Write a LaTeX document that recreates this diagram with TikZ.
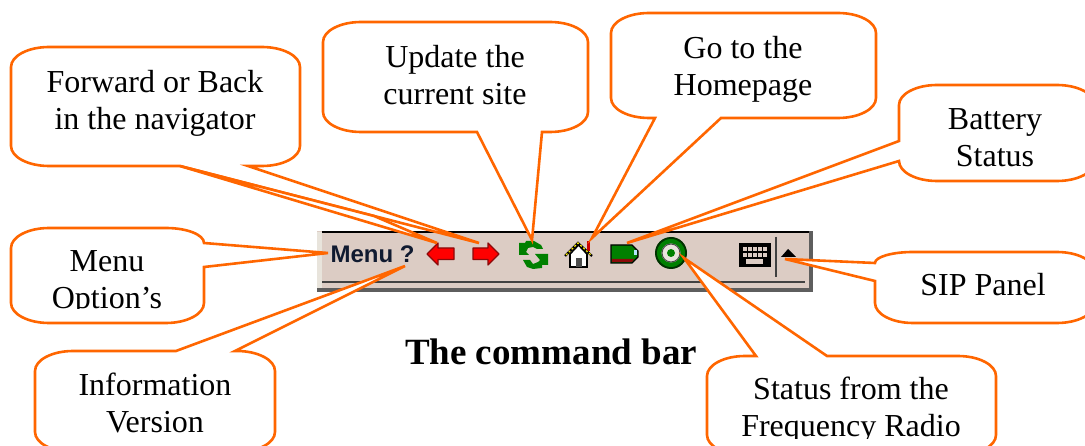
\documentclass[tikz,border=0pt]{standalone}
\usepackage{fontspec}
\setmainfont{Liberation Serif}
\newfontfamily\barfont{Liberation Sans}
\definecolor{calloutline}{HTML}{FF6600}
\definecolor{barface}{HTML}{DCCCC4}
\definecolor{barlight}{HTML}{E8E4DC}
\definecolor{barshadow}{HTML}{5E5E5E}
\definecolor{darkred}{HTML}{8B0A0A}
\definecolor{darkgreen}{HTML}{008000}
\definecolor{menublue}{HTML}{101A30}
\newcommand{\cornerTL}{arc[start angle=180,end angle=90,x radius=38pt,y radius=20pt]}
\newcommand{\cornerTR}{arc[start angle=90,end angle=0,x radius=38pt,y radius=20pt]}
\newcommand{\cornerBR}{arc[start angle=0,end angle=-90,x radius=38pt,y radius=20pt]}
\newcommand{\cornerBL}{arc[start angle=-90,end angle=-180,x radius=38pt,y radius=20pt]}
\tikzset{
	callout/.style={draw=calloutline,fill=white,line width=2.6pt,line join=miter},
	calloutlabel/.style={align=center,font=\fontsize{32}{37}\selectfont,inner sep=0pt},
	redarrow/.style={fill=red,draw=darkred,line width=1.2pt,line join=round}
}
\begin{document}
\begin{tikzpicture}[x=1pt,y=-1pt]
		\path [use as bounding box,clip] (0,0) rectangle (1085,446);
		% the bar
		\fill [barface] (317,231) rectangle (813,292);
		\fill [barlight] (317,232) rectangle (322,288);
		\fill [black] (322,231) rectangle (810,233);
		\fill [barshadow] (809,231) rectangle (813,292);
		\fill [barshadow] (317,288.5) rectangle (813,292);
		\fill [barshadow!70!black] (322,281.5) rectangle (805,283.5);
		\node [font=\barfont\bfseries\fontsize{24}{24}\selectfont,text=menublue,inner sep=0pt] (menutext) at (372.5,254) {Menu ?};
		\draw [redarrow] (427,254) -- (438,243) -- (438,248) -- (454,248) -- (454,259.5) -- (438,259.5) -- (438,265) -- cycle;
		\draw [redarrow] (499,254) -- (488,243) -- (488,248) -- (473,248) -- (473,259.5) -- (488,259.5) -- (488,265) -- cycle;
		\fill [darkgreen] (519,243) -- (525,243) -- (526,241) -- (534,241) -- (541,245) -- (543,249) -- (537,249) -- (533,247) -- (528,248) -- (526,252) -- (529,255) -- (519,255) -- cycle;
		\fill [darkgreen] (535,254) -- (548,254) -- (548,265) -- (542,265) -- (542,268) -- (533,269) -- (527,267) -- (523,260) -- (530,260) -- (533,264) -- (538,262) -- (540,260) -- cycle;
		\fill [red!80!black] (587,241) rectangle (590,251);
		\fill [white,draw=black,line width=1.6pt] (570,254) -- (570,267) -- (587,267) -- (587,254) -- (578.5,245) -- cycle;
		\draw [black,line width=2.2pt] (565,256) -- (578,243) -- (592,256);
		\draw [yellow,line width=1.2pt,dash pattern=on 2pt off 2pt] (566,255) -- (578,243) -- (591,255);
		\fill [black!70] (576,258) rectangle (582,267);
		\draw [fill=darkgreen,draw=black,line width=1.2pt] (611,245) -- (632,245) -- (638,251) -- (638,257) -- (632,263) -- (611,263) -- cycle;
		\fill [darkred] (612,259) -- (634,259) -- (632,262) -- (612,262) -- cycle;
		\fill [white!70!cyan] (634,250) rectangle (637,255);
		\fill [black!80!green] (671,253) circle (16);
		\fill [darkgreen] (671,253) circle (14);
		\fill [barlight] (671,253) circle (9.5);
		\draw [black!70,line width=1pt] (671,253) circle (9);
		\fill [darkgreen] (671,253) circle (4);
		\fill [black] (739,243) rectangle (771,267);
		\foreach \kx in {743,748,753,758,763} {
			\fill [barface] (\kx,247) rectangle ++(3.5,4);
			\fill [barface] (\kx,253.5) rectangle ++(3.5,4);
		}
		\fill [barface] (746,259.5) rectangle (763,264);
		\draw [black!75,line width=1.4pt] (776,237) -- (776,277);
		\fill [black] (781,257) -- (788,249) -- (796,257) -- cycle;
		% where the callouts point
		\coordinate (tipFwd) at (479,243);
		\coordinate (tipBack) at (437,243);
		\coordinate (tipUpdate) at (532,240);
		\coordinate (tipHome) at (592,238);
		\coordinate (tipBattery) at (627,243);
		\coordinate (tipRadio) at (684,258);
		\coordinate (tipSip) at (785,259);
		\coordinate (tipMenu) at (328,253);
		\coordinate (tipInfo) at (405,266);
		% the callouts
		\draw [callout] (49,47) -- (262,47) \cornerTR -- (300,146) \cornerBR -- (248,166) -- (tipFwd) -- (180,166) -- (49,166) \cornerBL -- (11,67) \cornerTL -- cycle;
		\draw [callout] (180,166) -- (tipBack) -- (374,216) -- cycle;
		\node [calloutlabel] (fwdlabel) at (155,103) {Forward or Back\\in the navigator};
		\draw [callout] (361,22) -- (550,22) \cornerTR -- (588,112) \cornerBR -- (542,132) -- (tipUpdate) -- (477,132) -- (361,132) \cornerBL -- (323,42) \cornerTL -- cycle;
		\node [calloutlabel] (updatelabel) at (455,75) {Update the\\current site};
		\draw [callout] (649,13) -- (838,13) \cornerTR -- (876,98) \cornerBR -- (721,118) -- (tipHome) -- (655,118) -- (649,118) \cornerBL -- (611,33) \cornerTL -- cycle;
		\node [calloutlabel] (homelabel) at (743,69) {Go to the\\Homepage};
		\draw [callout] (937,85) -- (1057,85) \cornerTR -- (1095,161) \cornerBR -- (937,181) \cornerBL -- (tipBattery) -- (899,141) -- (899,105) \cornerTL -- cycle;
		\node [calloutlabel] (batterylabel) at (995,138) {Battery\\Status};
		\draw [callout] (913,252) -- (1057,252) \cornerTR -- (1095,303) \cornerBR -- (913,323) arc[start angle=-90,end angle=-180,x radius=38pt,y radius=20pt] -- (875,281) -- (tipSip) -- (875,263) arc[start angle=180,end angle=90,x radius=38pt,y radius=11pt] -- cycle;
		\node [calloutlabel] (siplabel) at (983,285) {SIP Panel};
		\draw [callout] (745,356) -- (756,356) -- (tipRadio) -- (827,356) -- (958,356) \cornerTR -- (996,435) \cornerBR -- (745,455) \cornerBL -- (707,376) \cornerTL -- cycle;
		\begin{scope}
			\clip (700,360) rectangle (1000,438);
			\node [calloutlabel] (radiolabel) at (851,410) {Status from the\\Frequency Radio};
		\end{scope}
		\draw [callout] (49,228) -- (166,228) arc[start angle=90,end angle=0,x radius=38pt,y radius=15pt] -- (tipMenu) -- (204,267) -- (204,303) \cornerBR -- (49,323) \cornerBL -- (11,248) \cornerTL -- cycle;
		\begin{scope}
			\clip (10,230) rectangle (205,309);
			\node [calloutlabel] (menulabel) at (107,283) {Menu\\Option's};
		\end{scope}
		\draw [callout] (73,351) -- (176,351) -- (tipInfo) -- (235,351) -- (237,351) \cornerTR -- (275,432) \cornerBR -- (73,452) \cornerBL -- (35,371) \cornerTL -- cycle;
		\node [calloutlabel] (infolabel) at (155,403) {Information\\Version};
		\node [font=\bfseries\fontsize{37}{37}\selectfont,inner sep=0pt] (titlelabel) at (551,352) {The command bar};
	\end{tikzpicture}
\end{document}
